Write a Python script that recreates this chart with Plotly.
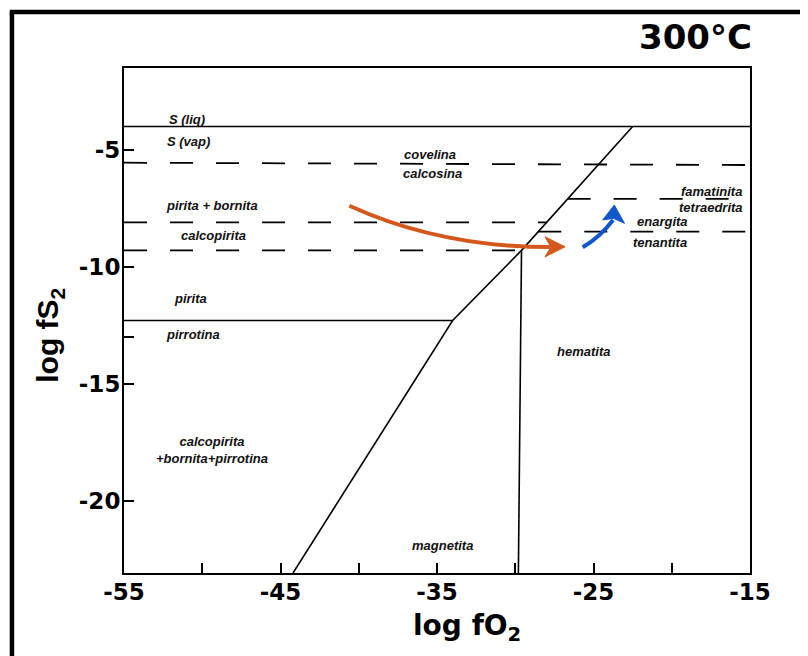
import numpy as np
import plotly.graph_objects as go

# ---------------- axes ----------------
X_RANGE = [-55, -15]
Y_RANGE = [-23.1, -1.5]
X_TICKS = [-55, -45, -35, -25, -15]
X_TICK_TEXT = ["-55", "-45", "-35", "-25", "-15"]
X_MINOR_TICKS = [-50, -40, -30, -20]
Y_TICKS = [-5, -10, -15, -20]
Y_TICK_TEXT = ["-5", "-10", "-15", "-20"]
Y_MINOR_TICKS = [-13]

# ---------------- phase boundaries (log fO2, log fS2) ----------------
S_LIQ_VAP = -4.0                 # S(liq) / S(vap)
COV_CC = [-5.55, -5.65]          # covelina / calcosina (left, right)
PY_BN_CPY = -8.1                 # pirita+bornita / calcopirita
CPY_PY = -9.3                    # calcopirita / pirita
FAM_TET = -7.1                   # famatinita / tetraedrita
ENA_TEN = -8.5                   # enargita / tenantita
PY_PO = -12.3                    # pirita / pirrotina

DIAG_X = [-44.2, -34.0, -29.6, -22.5]   # main sulfidation / oxidation boundary
DIAG_Y = [-23.1, -12.3, -9.3, -4.0]
MT_HM_X = [-29.6, -29.8]                # magnetita / hematita
MT_HM_Y = [-9.3, -23.1]

# ---------------- arrows (start, control, end) and heads ----------------
ORANGE_PATH = [(-40.6, -7.39), (-34.8, -9.16), (-27.78, -9.16)]
ORANGE_HEAD = [(-26.82, -9.15), (-28.1, -8.72), (-27.72, -9.16), (-28.1, -9.58)]
BLUE_PATH = [(-25.69, -9.17), (-24.58, -8.73), (-23.75, -8.0)]
BLUE_HEAD = [(-23.67, -7.36), (-24.41, -8.0), (-23.73, -7.93), (-23.02, -8.145)]

# ---------------- field labels ----------------
LABEL_TEXT = ["S (liq)", "S (vap)", "covelina", "calcosina", "pirita + bornita",
              "calcopirita", "pirita", "pirrotina", "calcopirita<br>+bornita+pirrotina",
              "hematita", "magnetita", "famatinita", "tetraedrita", "enargita", "tenantita"]
LABEL_X = [-50.97, -50.85, -35.45, -35.26, -49.38, -49.31, -50.78, -50.59, -49.4,
           -25.61, -34.68, -17.49, -17.49, -20.62, -20.75]
LABEL_Y = [-3.72, -4.66, -5.22, -6.03, -7.38, -8.65, -11.35, -12.89, -17.82,
           -13.62, -21.93, -6.80, -7.45, -8.05, -8.95]

ORANGE = "#D4581C"
BLUE = "#1156CC"
DASH = "23px,23px"


def x_on_diag(y):
    return float(np.interp(y, DIAG_Y, DIAG_X))


fig = go.Figure()


def add_line(xs, ys, dash="solid", width=1.6):
    fig.add_trace(go.Scatter(x=xs, y=ys, mode="lines", hoverinfo="skip",
                             line=dict(color="black", width=width, dash=dash)))


add_line(X_RANGE, [S_LIQ_VAP, S_LIQ_VAP])
add_line(X_RANGE, COV_CC, DASH, 1.8)
add_line([X_RANGE[0], x_on_diag(PY_BN_CPY)], [PY_BN_CPY, PY_BN_CPY], DASH, 1.8)
add_line([X_RANGE[0], MT_HM_X[0]], [CPY_PY, CPY_PY], DASH, 1.8)
add_line([x_on_diag(FAM_TET), X_RANGE[1]], [FAM_TET, FAM_TET], DASH, 1.8)
add_line([x_on_diag(ENA_TEN), X_RANGE[1]], [ENA_TEN, ENA_TEN], DASH, 1.8)
add_line([X_RANGE[0], DIAG_X[1]], [PY_PO, PY_PO])
add_line(DIAG_X, DIAG_Y)
add_line(MT_HM_X, MT_HM_Y)


def curve(pts):
    (x0, y0), (cx, cy), (x1, y1) = pts
    return f"M {x0},{y0} Q {cx},{cy} {x1},{y1}"


def head(pts):
    p = " L ".join(f"{x},{y}" for x, y in pts)
    return f"M {p} Z"


shapes = [
    dict(type="path", path=curve(ORANGE_PATH), xref="x", yref="y",
         line=dict(color=ORANGE, width=4)),
    dict(type="path", path=head(ORANGE_HEAD), xref="x", yref="y",
         line=dict(color=ORANGE, width=1), fillcolor=ORANGE),
    dict(type="path", path=curve(BLUE_PATH), xref="x", yref="y",
         line=dict(color=BLUE, width=4)),
    dict(type="path", path=head(BLUE_HEAD), xref="x", yref="y",
         line=dict(color=BLUE, width=1), fillcolor=BLUE),
    # outer frame (left and top edges of the figure)
    dict(type="line", xref="paper", yref="paper", x0=-0.179, x1=-0.179, y0=-0.25, y1=1.111,
         line=dict(color="black", width=4.5)),
    dict(type="line", xref="paper", yref="paper", x0=-0.1825, x1=1.15, y0=1.111, y1=1.111,
         line=dict(color="black", width=4.5)),
]

label_font = dict(family="Liberation Sans, Arial, sans-serif", size=13, color="#111",
                  style="italic", weight="bold")
annotations = [dict(x=x, y=y, xref="x", yref="y", text=t, showarrow=False,
                    font=label_font, align="center")
               for t, x, y in zip(LABEL_TEXT, LABEL_X, LABEL_Y)]

big = dict(family="DejaVu Sans, sans-serif", color="black", weight="bold")
annotations += [
    dict(text="300°C", x=1.006, y=1.0614, xref="paper", yref="paper", xanchor="right",
         yanchor="middle", showarrow=False, font=dict(size=34, **big)),
    dict(text="log fO<sub>2</sub>", x=0.548, y=-0.108, xref="paper", yref="paper",
         xanchor="center", yanchor="middle", showarrow=False, font=dict(size=28, **big)),
    dict(text="log fS<sub>2</sub>", x=-0.118, y=0.47, xref="paper", yref="paper",
         xanchor="center", yanchor="middle", textangle=-90, showarrow=False,
         font=dict(family="Liberation Sans, Arial, sans-serif", size=30, color="black",
                   weight="bold")),
]

tickfont = dict(family="DejaVu Sans, sans-serif", size=23, color="black", weight="bold")
axis_common = dict(showgrid=False, zeroline=False, showline=True, linewidth=2,
                   linecolor="black", mirror=True, ticks="inside", ticklen=10,
                   tickwidth=2, tickcolor="black", tickfont=tickfont)
minor_common = dict(ticks="inside", ticklen=10, tickwidth=2, tickcolor="black",
                    showgrid=False)

fig.update_layout(
    width=808, height=656,
    margin=dict(l=116, r=66, t=60, b=91),
    paper_bgcolor="white", plot_bgcolor="white",
    showlegend=False,
    xaxis=dict(range=X_RANGE, tickvals=X_TICKS, ticktext=X_TICK_TEXT, ticklabelstandoff=-3,
               minor=dict(tickvals=X_MINOR_TICKS, **minor_common), **axis_common),
    yaxis=dict(range=Y_RANGE, tickvals=Y_TICKS, ticktext=Y_TICK_TEXT, ticklabelstandoff=-3,
               minor=dict(tickvals=Y_MINOR_TICKS, **minor_common), **axis_common),
    shapes=shapes,
    annotations=annotations,
)

fig.write_html("out.html")
